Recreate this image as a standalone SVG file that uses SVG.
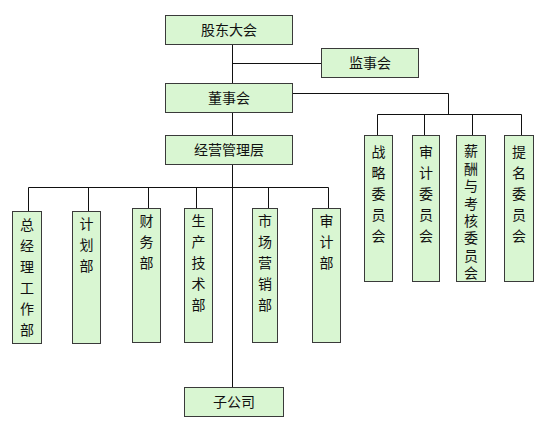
<svg xmlns="http://www.w3.org/2000/svg" width="544" height="431" viewBox="0 0 544 431">
<style>
.n rect{fill:#d9f6d2;stroke:#3a3a3a;stroke-width:1}
.n text{font-family:"Noto Sans CJK SC","Liberation Sans",sans-serif;font-size:14px;fill:#111;text-anchor:middle}
.n text.v{writing-mode:vertical-rl;text-anchor:start;letter-spacing:7px}
.c{stroke:#111;stroke-width:1;fill:none}
</style>
<rect width="544" height="431" fill="#ffffff"/>
<g id="connectors" class="c">
<path d="M232.5 44V83M232.5 63.5H321M232.5 112V135M232.5 164V387"/>
<path d="M292 93.5H448.5V114.5M377.5 114.5H521.5M377.5 114.5V135M424.5 114.5V135M472.5 114.5V135M521.5 114.5V135"/>
<path d="M28.5 187.5H328.5M28.5 187.5V211M88.5 187.5V211M148.5 187.5V208M196.5 187.5V208M268.5 187.5V208M328.5 187.5V208"/>
</g>
<g id="gudong" class="n"><rect x="165.5" y="15.5" width="127" height="29"/><text x="229" y="35">股东大会</text></g>
<g id="jianshi" class="n"><rect x="321.5" y="48.5" width="97" height="29"/><text x="370" y="68">监事会</text></g>
<g id="dongshi" class="n"><rect x="165.5" y="83.5" width="127" height="29"/><text x="229" y="103">董事会</text></g>
<g id="jingying" class="n"><rect x="165.5" y="135.5" width="127" height="29"/><text x="229" y="155">经营管理层</text></g>
<g id="zhanlue" class="n"><rect x="364.5" y="135.5" width="28" height="146"/><text class="v" x="378.5" y="145">战略委员会</text></g>
<g id="shenjiwei" class="n"><rect x="412.5" y="135.5" width="27" height="146"/><text class="v" x="426" y="145">审计委员会</text></g>
<g id="xinchou" class="n"><rect x="456.5" y="135.5" width="29" height="146"/><text class="v" x="471" y="144" style="letter-spacing:3.4px">薪酬与考核委员会</text></g>
<g id="timing" class="n"><rect x="504.5" y="135.5" width="29" height="146"/><text class="v" x="519" y="145">提名委员会</text></g>
<g id="zongjingli" class="n"><rect x="12.5" y="211.5" width="29" height="132"/><text class="v" x="27" y="218">总经理工作部</text></g>
<g id="jihua" class="n"><rect x="72.5" y="211.5" width="28" height="132"/><text class="v" x="86.5" y="217">计划部</text></g>
<g id="caiwu" class="n"><rect x="132.5" y="208.5" width="28" height="134"/><text class="v" x="146.5" y="214">财务部</text></g>
<g id="shengchan" class="n"><rect x="184.5" y="208.5" width="28" height="134"/><text class="v" x="198.5" y="214">生产技术部</text></g>
<g id="shichang" class="n"><rect x="252.5" y="208.5" width="25" height="134"/><text class="v" x="265" y="214">市场营销部</text></g>
<g id="shenjibu" class="n"><rect x="312.5" y="208.5" width="28" height="134"/><text class="v" x="326.5" y="214">审计部</text></g>
<g id="zigongsi" class="n"><rect x="184.5" y="387.5" width="99" height="29"/><text x="234" y="407">子公司</text></g>
</svg>
